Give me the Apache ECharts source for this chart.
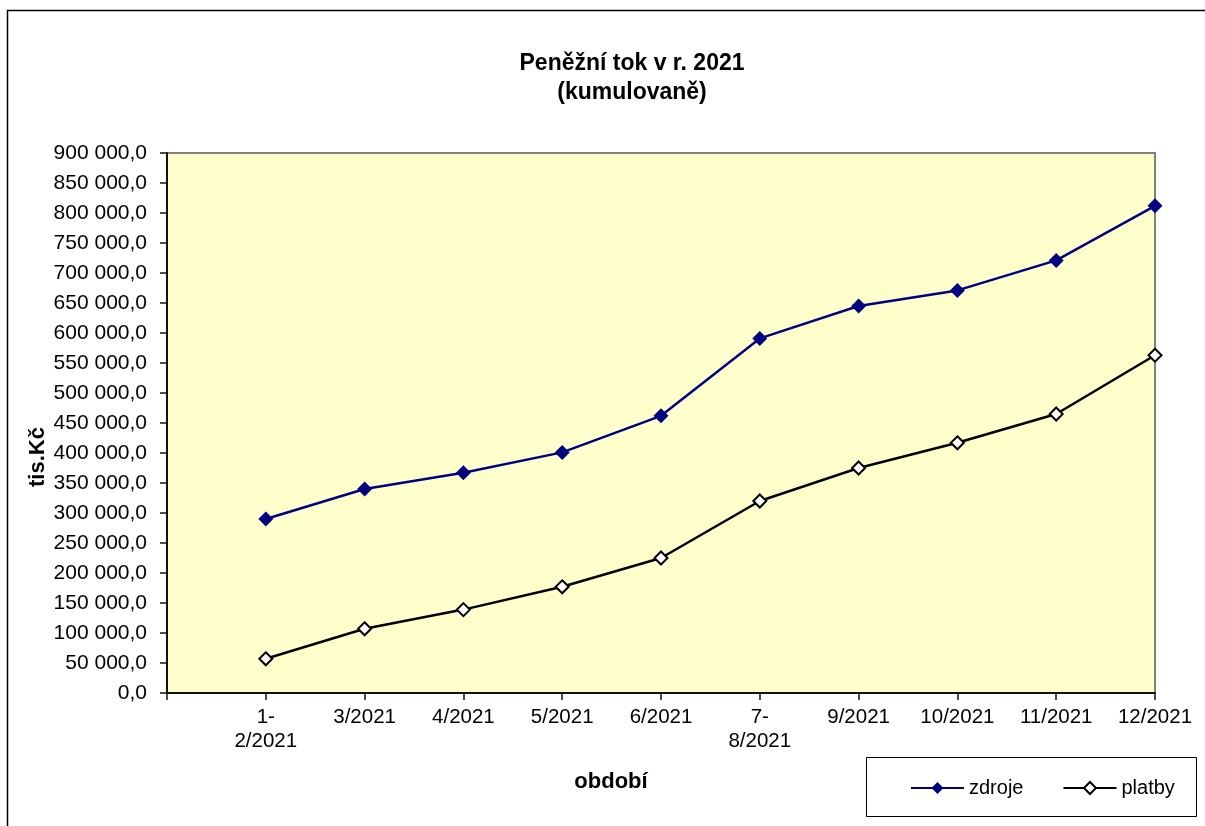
<!DOCTYPE html>
<html>
<head>
<meta charset="utf-8">
<script src="https://cdn.jsdelivr.net/npm/echarts@6/dist/echarts.min.js"></script>
<style>
html,body{margin:0;padding:0;background:#fff;}
#main{width:1205px;height:826px;}
</style>
</head>
<body>
<div id="main"></div>
<script>
const categories = ['1-2/2021','3/2021','4/2021','5/2021','6/2021','7-8/2021','9/2021','10/2021','11/2021','12/2021'];
const zdroje = [290000, 340000, 367000, 401000, 462000, 591000, 645000, 671000, 721000, 812000];
const platby = [57000, 107000, 139000, 177000, 225000, 320000, 375000, 417000, 465000, 563000];
const yTicks = {min: 0, max: 900000, interval: 50000};

function fmtNum(v) {
  const s = Math.round(v).toString().replace(/\B(?=(\d{3})+(?!\d))/g, ' ');
  return s + ',0';
}

const font = 'Liberation Sans, Arial, sans-serif';
const chart = echarts.init(document.getElementById('main'), null, {renderer: 'canvas'});

const option = {
  backgroundColor: '#ffffff',
  animation: false,
  textStyle: {fontFamily: font},
  grid: {
    left: 167, right: 50, top: 153, bottom: 133,
    show: true, backgroundColor: '#FFFFCC', borderColor: '#808080', borderWidth: 2,
    containLabel: false
  },
  legend: {
    left: 905, top: 773,
    itemWidth: 53, itemHeight: 15, itemGap: 39,
    textStyle: {fontFamily: font, fontSize: 20, color: '#000'},
    data: ['zdroje', 'platby']
  },
  xAxis: {
    type: 'category',
    boundaryGap: false,
    data: [''].concat(categories),
    axisLine: {lineStyle: {color: '#111', width: 2}},
    axisTick: {show: true, length: 7, inside: false, alignWithLabel: true, interval: 0, lineStyle: {color: '#111', width: 1.5}},
    axisLabel: {
      interval: 0, margin: 12, fontSize: 20.5, color: '#000', fontFamily: font, lineHeight: 24,
      formatter: function (v) { return v.replace('-', '-\n'); }
    },
    splitLine: {show: false}
  },
  yAxis: {
    type: 'value',
    min: yTicks.min, max: yTicks.max, interval: yTicks.interval,
    axisLine: {show: true, lineStyle: {color: '#111', width: 2}},
    axisTick: {show: true, length: 7, lineStyle: {color: '#111', width: 1.5}},
    axisLabel: {margin: 20, fontSize: 21, color: '#000', fontFamily: font, formatter: fmtNum},
    splitLine: {show: false}
  },
  series: [
    {
      name: 'zdroje', type: 'line',
      data: [null].concat(zdroje),
      symbol: 'diamond', symbolSize: 15,
      lineStyle: {color: '#000080', width: 2.5},
      itemStyle: {color: '#000080', borderColor: '#000080', borderWidth: 0},
      z: 3
    },
    {
      name: 'platby', type: 'line',
      data: [null].concat(platby),
      symbol: 'diamond', symbolSize: 13,
      showAllSymbol: true,
      lineStyle: {color: '#000000', width: 2.5},
      itemStyle: {color: '#ffffff', borderColor: '#000000', borderWidth: 2},
      z: 3
    }
  ],
  graphic: [
    {type: 'rect', shape: {x: 7.5, y: 10.5, width: 1400, height: 1000}, style: {fill: 'none', stroke: '#000', lineWidth: 1.5}, silent: true, z: 0},
    {type: 'rect', shape: {x: 866.5, y: 757.5, width: 330, height: 59}, style: {fill: 'none', stroke: '#000', lineWidth: 1}, silent: true, z: 0},
    {type: 'text', x: 632, y: 64, style: {text: 'Peněžní tok v r. 2021', font: 'bold 23px ' + font, fill: '#000', align: 'center', verticalAlign: 'middle'}},
    {type: 'text', x: 632, y: 93, style: {text: '(kumulovaně)', font: 'bold 23px ' + font, fill: '#000', align: 'center', verticalAlign: 'middle'}},
    {type: 'text', x: 38, y: 457, rotation: Math.PI / 2, style: {text: 'tis.Kč', font: 'bold 22px ' + font, fill: '#000', align: 'center', verticalAlign: 'middle'}},
    {type: 'text', x: 611, y: 782, style: {text: 'období', font: 'bold 22px ' + font, fill: '#000', align: 'center', verticalAlign: 'middle'}}
  ]
};
chart.setOption(option);
</script>
</body>
</html>
